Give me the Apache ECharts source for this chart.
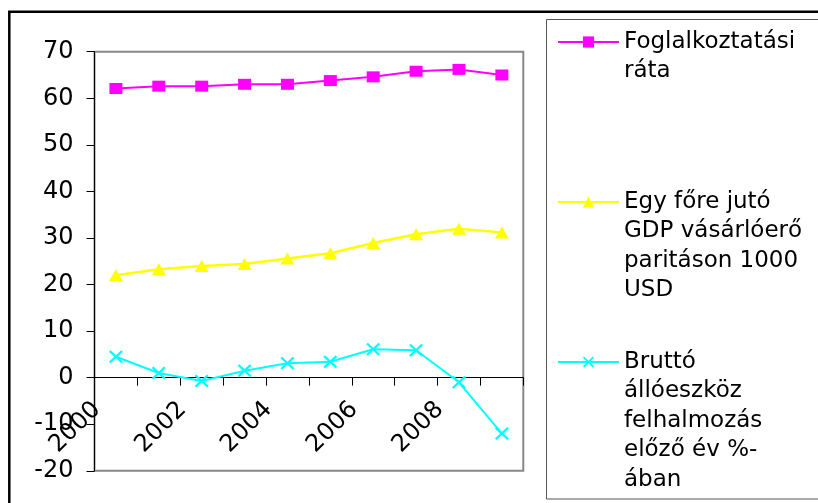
<!DOCTYPE html>
<html>
<head>
<meta charset="utf-8">
<script src="https://cdn.jsdelivr.net/npm/echarts@6/dist/echarts.min.js"></script>
<style>
html,body{margin:0;padding:0;background:#fff;}
#chart{width:818px;height:503px;}
</style>
</head>
<body>
<div id="chart"></div>
<script>
const years = ['2000','2001','2002','2003','2004','2005','2006','2007','2008','2009'];
const seriesNames = [
  'Foglalkoztatási\nráta',
  'Egy főre jutó\nGDP vásárlóerő\nparitáson 1000\nUSD',
  'Bruttó\nállóeszköz\nfelhalmozás\nelőző év %-\nában'
];
const employmentRate = [62.1, 62.6, 62.6, 63.0, 63.0, 63.8, 64.6, 65.8, 66.2, 65.0];
const gdpPerCapita = [22.0, 23.3, 24.0, 24.4, 25.6, 26.7, 28.9, 30.8, 32.0, 31.2];
const grossFixedCapital = [4.5, 1.0, -0.7, 1.5, 3.1, 3.4, 6.1, 5.9, -1.0, -12.0];
const yTicks = {min: -20, max: 70, interval: 10};

const FONT = '"DejaVu Sans", sans-serif';
const crossPath = 'path://M0,1.2 L1.2,0 L5,3.8 L8.8,0 L10,1.2 L6.2,5 L10,8.8 L8.8,10 L5,6.2 L1.2,10 L0,8.8 L3.8,5 Z';
const L = 29.5;

// plot rectangle (layout only)
const G = {left: 94.5, top: 51.7, right: 523.3, bottom: 470.8};
// distance from plot bottom to the zero line, so the category axis sits on y = 0
const zeroOffset = (G.bottom - G.top) * (0 - yTicks.min) / (yTicks.max - yTicks.min);

function legendFor(name, iconCenter) {
  const n = name.split('\n').length;
  return {
    data: [name],
    left: 557,
    top: iconCenter - (2 * n - 1) * L / 2,
    padding: 0,
    orient: 'vertical',
    itemWidth: 61,
    itemHeight: 14,
    selectedMode: false,
    formatter: function (nm) { return '\n'.repeat(nm.split('\n').length - 1) + nm; },
    textStyle: {
      fontFamily: FONT, fontSize: 23, color: '#000', lineHeight: L,
      backgroundColor: 'rgba(255,255,255,0)'
    }
  };
}

const chart = echarts.init(document.getElementById('chart'), null, {renderer: 'canvas'});
chart.setOption({
  animation: false,
  backgroundColor: '#fff',
  grid: {left: G.left, top: G.top, right: 818 - G.right, bottom: 503 - G.bottom, show: true, borderColor: '#888', borderWidth: 2,
         containLabel: false, outerBoundsMode: 'none'},
  graphic: [
    {type: 'rect', shape: {x: 9.3, y: 11.7, width: 1000, height: 1000}, style: {fill: 'none', stroke: '#000', lineWidth: 2.5}, silent: true, z: 100},
    {type: 'rect', shape: {x: 546.5, y: 19.5, width: 400, height: 479.5}, style: {fill: 'none', stroke: '#555', lineWidth: 1}, silent: true, z: 100}
  ],
  legend: [
    legendFor(seriesNames[0], 42),
    legendFor(seriesNames[1], 202),
    legendFor(seriesNames[2], 362)
  ],
  xAxis: {
    type: 'category',
    data: years,
    boundaryGap: true,
    offset: -zeroOffset,
    axisLine: {onZero: false, lineStyle: {color: '#000', width: 1}},
    axisTick: {show: true, interval: 0, length: 8, lineStyle: {color: '#000'}},
    axisLabel: {interval: 1, rotate: 45, margin: 9, padding: [0, 27, 0, 0], fontFamily: FONT, fontSize: 24, color: '#000'},
    splitLine: {show: false}
  },
  yAxis: {
    type: 'value',
    min: yTicks.min, max: yTicks.max, interval: yTicks.interval,
    axisLine: {show: true, lineStyle: {color: '#000', width: 1}},
    axisTick: {show: true, length: 8, lineStyle: {color: '#000'}},
    axisLabel: {margin: 21, fontFamily: FONT, fontSize: 24, color: '#000'},
    splitLine: {show: false}
  },
  series: [
    {name: seriesNames[0], type: 'line', data: employmentRate, symbol: 'rect', symbolSize: [13, 11],
     lineStyle: {color: '#FF00FF', width: 2}, itemStyle: {color: '#FF00FF'}},
    {name: seriesNames[1], type: 'line', data: gdpPerCapita, symbol: 'triangle', symbolSize: [14, 12],
     lineStyle: {color: '#FFFF00', width: 2.5}, itemStyle: {color: '#FFFF00'}},
    {name: seriesNames[2], type: 'line', data: grossFixedCapital, symbol: crossPath, symbolSize: [14, 13],
     lineStyle: {color: '#00FFFF', width: 2}, itemStyle: {color: '#00FFFF'}}
  ]
});
</script>
</body>
</html>
